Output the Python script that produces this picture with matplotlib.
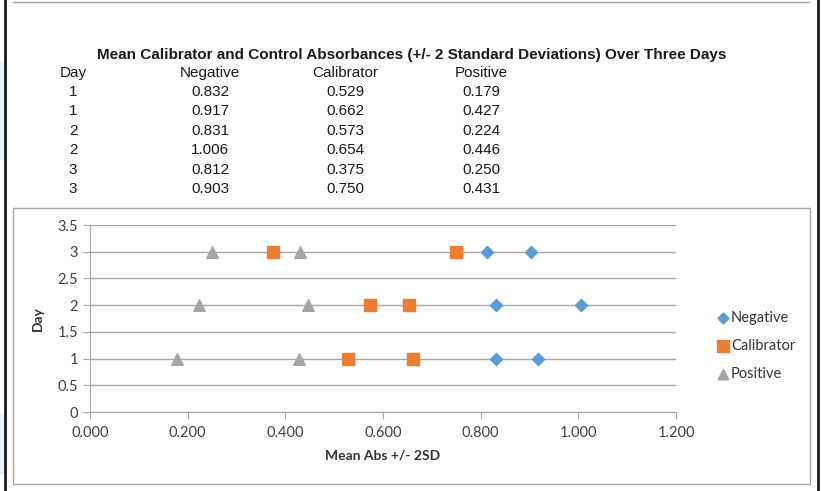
import matplotlib.pyplot as plt
from matplotlib.patches import Rectangle
from matplotlib.lines import Line2D

days = [1, 1, 2, 2, 3, 3]
negative = [0.832, 0.917, 0.831, 1.006, 0.812, 0.903]
calibrator = [0.529, 0.662, 0.573, 0.654, 0.375, 0.750]
positive = [0.179, 0.427, 0.224, 0.446, 0.250, 0.431]

title = 'Mean Calibrator and Control Absorbances (+/- 2 Standard Deviations) Over Three Days'
col_names = ['Day', 'Negative', 'Calibrator', 'Positive']

W, H = 821, 491
fig = plt.figure(figsize=(W / 100, H / 100), dpi=100)


def fx(px):
    return px / W


def fy(py):
    return 1 - py / H


# page decorations: black side rules, grey boxes, light shading at left edge
for x0 in (5, 818):
    fig.add_artist(Line2D([fx(x0), fx(x0)], [0, 1], color='#1a1a1a', lw=2))
fig.add_artist(Line2D([fx(13), fx(809)], [fy(1.5), fy(1.5)], color='#a6a6a6', lw=1))
for (y0, y1) in [(63, 160), (415, 475)]:
    fig.add_artist(Rectangle((0, fy(y1)), fx(4), fy(y0) - fy(y1), transform=fig.transFigure,
                             facecolor='#e9f1f9', edgecolor='none'))
fig.add_artist(Rectangle((fx(13), fy(484)), fx(810) - fx(13), fy(208) - fy(484),
                         transform=fig.transFigure, facecolor='none', edgecolor='#a6a6a6', lw=1))

# table above the chart
tfont = 'Liberation Sans'
fig.text(fx(412), fy(55), title, ha='center', va='center', fontsize=11,
         fontweight='bold', family=tfont, color='#1a1a1a')
col_x = [73, 210, 345, 481]
row_y = [92, 111, 131, 150, 170, 189]
for cx, name in zip(col_x, col_names):
    fig.text(fx(cx), fy(73), name, ha='center', va='center', fontsize=11, family=tfont, color='#1a1a1a')
for i, ry in enumerate(row_y):
    vals = [str(days[i]), '%.3f' % negative[i], '%.3f' % calibrator[i], '%.3f' % positive[i]]
    for cx, v in zip(col_x, vals):
        fig.text(fx(cx), fy(ry), v, ha='center', va='center', fontsize=11, family=tfont, color='#1a1a1a')

# chart
cfont = 'Lato'
ax = fig.add_axes([fx(90), fy(412), fx(676) - fx(90), fy(225) - fy(412)])
ax.scatter(negative, days, marker='D', s=38, color='#5b9bd5', label='Negative', zorder=3)
ax.scatter(calibrator, days, marker='s', s=80, color='#ed7d31', label='Calibrator', zorder=3)
ax.scatter(positive, days, marker='^', s=70, color='#a5a5a5', label='Positive', zorder=3)

ax.set_xlim(0, 1.2)
ax.set_ylim(0, 3.5)
ax.set_xticks([0, 0.2, 0.4, 0.6, 0.8, 1.0, 1.2])
ax.set_xticklabels(['%.3f' % v for v in ax.get_xticks()])
ax.set_yticks([0, 0.5, 1, 1.5, 2, 2.5, 3, 3.5])
ax.set_yticklabels(['0', '0.5', '1', '1.5', '2', '2.5', '3', '3.5'])
ax.grid(axis='y', color='#a6a6a6', lw=1)
ax.set_axisbelow(True)
for s in ('top', 'right'):
    ax.spines[s].set_visible(False)
for s in ('left', 'bottom'):
    ax.spines[s].set_color('#a6a6a6')
ax.tick_params(axis='both', colors='#a6a6a6', length=5, labelcolor='#404040', labelsize=10.5)
ax.tick_params(axis='x', pad=5)
for lab in ax.get_xticklabels() + ax.get_yticklabels():
    lab.set_family(cfont)

ax.set_xlabel('Mean Abs +/- 2SD', fontsize=10, fontweight='bold', family=cfont, color='#333333', labelpad=7)
ax.set_ylabel('Day', fontsize=10, fontweight='bold', family=cfont, color='#333333', labelpad=10)

leg = ax.legend(loc='center left', bbox_to_anchor=(1.045, 0.353), frameon=False,
                prop={'family': cfont, 'size': 10.5}, handletextpad=0.05,
                handlelength=1.0, labelspacing=0.95, markerscale=0.9)
for t in leg.get_texts():
    t.set_color('#333333')

fig.savefig('out.png', dpi=100)
